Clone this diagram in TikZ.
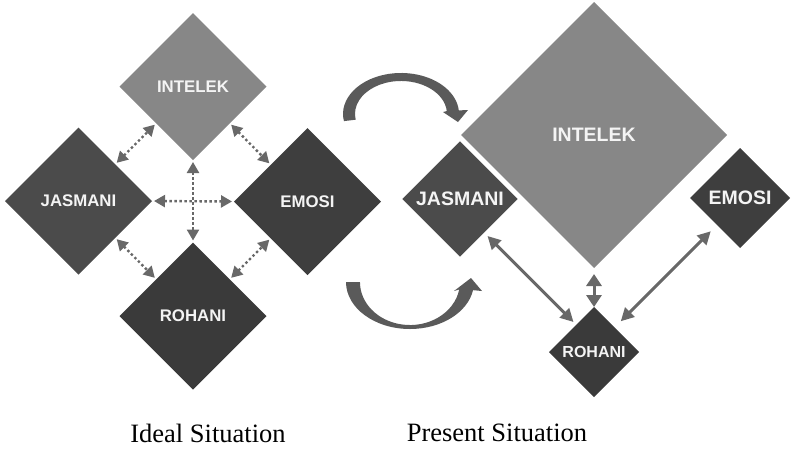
\documentclass[tikz,border=0pt]{standalone}
\usepackage{fontspec}
\usepackage{graphicx}
\setmainfont{Liberation Serif}
\setsansfont{Liberation Sans}
\usetikzlibrary{shapes.geometric,arrows.meta,calc}
\definecolor{intgray}{HTML}{878787}
\definecolor{jasgray}{HTML}{4B4B4B}
\definecolor{emogray}{HTML}{3E3E3E}
\definecolor{rohgray}{HTML}{3A3A3A}
\definecolor{arrgray}{HTML}{686868}
\definecolor{curvgray}{HTML}{5A5A5A}
\definecolor{txtwhite}{HTML}{F4F4F4}
\tikzset{
  dbox/.style={diamond, aspect=1, inner sep=0pt, outer sep=0pt, draw=none,
    text=txtwhite, font=\sffamily\bfseries},
  smallfont/.style={font=\sffamily\bfseries\fontsize{16.8}{18}\selectfont},
  bigfont/.style={font=\sffamily\bfseries\fontsize{19.5}{21}\selectfont},
  dotarr/.style={draw=arrgray, line width=2.4pt, dash pattern=on 2.4pt off 2.6pt,
    {Triangle[length=11pt,width=12pt]}-{Triangle[length=11pt,width=12pt]},
    shorten <=2pt, shorten >=2pt},
  solarr/.style={draw=arrgray, line width=3pt,
    {Triangle[length=13pt,width=13pt]}-{Triangle[length=13pt,width=13pt]}},
  curv/.style={fill=curvgray, draw=none},
  caption/.style={font=\fontsize{26.5}{30}\selectfont, text=black}
}
\begin{document}
\begin{tikzpicture}[x=1pt,y=-1pt]
\useasboundingbox (0,0) rectangle (792,456);

% ---------- Ideal situation ----------
\node[dbox, smallfont, fill=intgray, minimum width=147pt, minimum height=147pt] (int1) at (193,86.5) {INTELEK};
\node[dbox, smallfont, fill=jasgray, minimum width=147pt, minimum height=147pt] (jas1) at (78.5,201) {JASMANI};
\node[dbox, smallfont, fill=emogray, minimum width=147pt, minimum height=147pt] (emo1) at (307.5,201.5) {EMOSI};
\node[dbox, smallfont, fill=rohgray, minimum width=147pt, minimum height=147pt] (roh1) at (193,316) {ROHANI};

\draw[dotarr] (jas1.north east) -- (int1.south west);
\draw[dotarr] (int1.south east) -- (emo1.north west);
\draw[dotarr] (jas1.south east) -- (roh1.north west);
\draw[dotarr] (roh1.north east) -- (emo1.south west);
\draw[dotarr] (jas1.east) -- (emo1.west);
\draw[dotarr] (int1.south) -- (roh1.north);

% ---------- curved arrows ----------
\fill[curv] (343.9,121.1) arc[start angle=170, end angle=355, x radius=58, y radius=41]
  -- (468,110) -- (458,122) -- (443,112) -- (446.8,111.1)
  arc[start angle=355, end angle=170, x radius=46, y radius=33] -- cycle;
\fill[curv] (346,282) arc[start angle=180, end angle=10, x radius=64, y radius=47]
  -- (482,291) -- (471,278) -- (454,291) -- (459.2,289.5)
  arc[start angle=10, end angle=180, x radius=50, y radius=43] -- cycle;

% ---------- Present situation ----------
\node[dbox, bigfont, fill=intgray, minimum width=266pt, minimum height=266pt] (int2) at (594,135) {INTELEK};
\node[dbox, bigfont, fill=jasgray, draw=white, line width=1.5pt, minimum width=118pt, minimum height=118pt] (jas2) at (460,199) {JASMANI};
\node[dbox, bigfont, fill=emogray, minimum width=100pt, minimum height=100pt] (emo2) at (740,198) {EMOSI};
\node[dbox, font=\sffamily\bfseries\fontsize{16}{18}\selectfont, fill=rohgray, minimum width=90pt, minimum height=90pt] (roh2) at (594,352) {ROHANI};

\coordinate (m1) at ($(jas2.south east)!.5!(roh2.north west)$);
\coordinate (m2) at ($(emo2.south west)!.5!(roh2.north east)$);
\draw[solarr] ($(m1)+(-43,-43)$) -- ($(m1)+(43,43)$);
\draw[solarr] ($(m2)+(45,-45)$) -- ($(m2)+(-45,45)$);
\draw[draw=arrgray, line width=3pt,
  {Triangle[length=12pt,width=15pt]}-{Triangle[length=12pt,width=15pt]},
  shorten <=6pt] (int2.south) -- (roh2.north);

% ---------- captions ----------
\node[caption] (cap1) at (208,433) {Ideal Situation};
\node[caption] (cap2) at (497,433) {Present Situation};
\end{tikzpicture}
\end{document}
